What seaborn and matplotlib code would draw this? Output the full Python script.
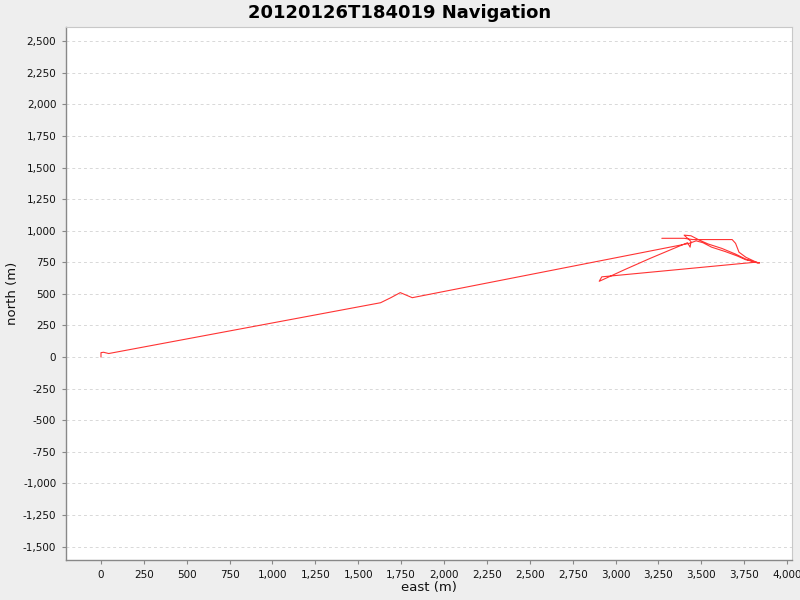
import numpy as np
import pandas as pd
import matplotlib
matplotlib.use("Agg")
import matplotlib.pyplot as plt
import matplotlib.ticker as mticker
import seaborn as sns

# vehicle track (metres)
east = [0, 0, 15, 45,
        1630, 1690, 1745, 1815,
        3430, 3470, 3510, 3560, 3640, 3710, 3760, 3840, 3810,
        2920, 2905, 2930, 3050, 3200, 3340, 3420, 3435, 3440, 3400, 3440,
        3490, 3540, 3620, 3700, 3760, 3830,
        3760, 3720, 3700, 3680, 3450, 3400, 3270]
north = [0, 35, 38, 28,
         430, 470, 510, 470,
         900, 920, 905, 870, 835, 800, 770, 745, 750,
         635, 600, 615, 690, 780, 860, 905, 870, 915, 965, 960,
         925, 895, 860, 815, 775, 745,
         790, 830, 900, 930, 930, 940, 940]

x_ticks = np.arange(0, 4001, 250)
y_ticks = np.arange(-1500, 2501, 250)

df = pd.DataFrame({"east": east, "north": north})

sns.set_style("white")
plt.rcParams["font.family"] = ["DejaVu Sans"]

fig = plt.figure(figsize=(8, 6), dpi=100, facecolor="#eeeeee")
ax = fig.add_axes([0.0825, 0.0667, 0.9075, 0.888])
ax.set_facecolor("white")

sns.lineplot(data=df, x="east", y="north", sort=False, estimator=None,
             color="#ff3333", linewidth=0.8, ax=ax)

ax.set_xlim(-204, 4029)
ax.set_ylim(-1606, 2611)
ax.set_xticks(x_ticks)
ax.set_yticks(y_ticks)
fmt = mticker.FuncFormatter(lambda v, p: f"{int(v):,}")
ax.xaxis.set_major_formatter(fmt)
ax.yaxis.set_major_formatter(fmt)

ax.yaxis.grid(True, color="#d8d8d8", linestyle=(0, (3, 3)), linewidth=0.7)
ax.xaxis.grid(False)

for side in ["top", "right"]:
    ax.spines[side].set_color("#c8c8c8")
    ax.spines[side].set_linewidth(0.8)
for side in ["left", "bottom"]:
    ax.spines[side].set_color("#888888")
    ax.spines[side].set_linewidth(1.0)

ax.tick_params(axis="both", direction="out", length=3, width=0.8,
               color="#888888", labelsize=7.5, labelcolor="#111111", pad=4)
ax.tick_params(axis="both", which="both", bottom=True, left=True)

ax.set_xlabel("east (m)", fontsize=9.5, color="#111111", labelpad=1)
ax.set_ylabel("north (m)", fontsize=9.5, color="#111111", labelpad=0)
ax.yaxis.set_label_coords(-0.065, 0.5)
fig.suptitle("20120126T184019 Navigation", fontsize=13, fontweight="bold",
             color="black", y=0.993)

fig.savefig("out.png", dpi=100, facecolor=fig.get_facecolor())
